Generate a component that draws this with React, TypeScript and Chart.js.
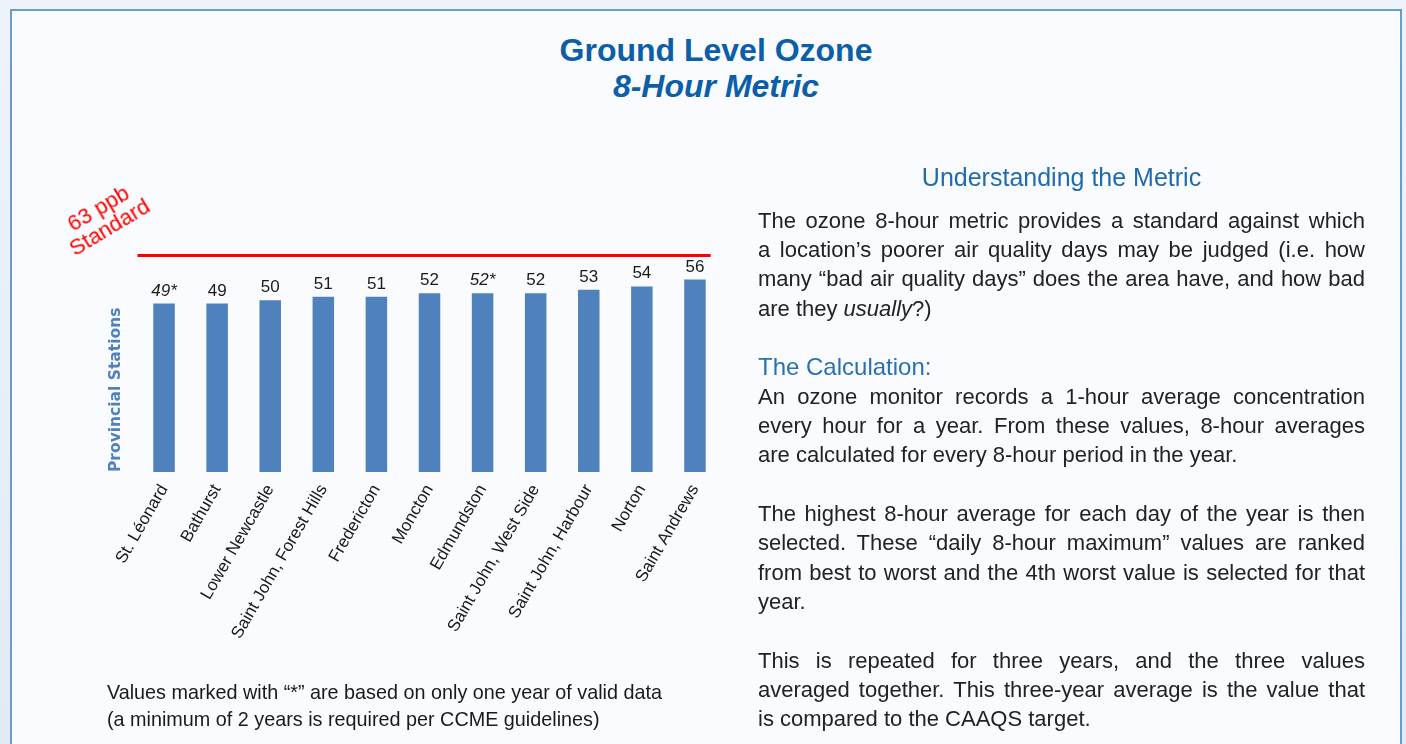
import React, { useEffect, useRef } from 'react';
import { Chart, registerables } from 'chart.js';

Chart.register(...registerables);

const stations = [
  'St. Léonard',
  'Bathurst',
  'Lower Newcastle',
  'Saint John, Forest Hills',
  'Fredericton',
  'Moncton',
  'Edmundston',
  'Saint John, West Side',
  'Saint John, Harbour',
  'Norton',
  'Saint Andrews',
];
const ozoneValues = [49, 49, 50, 51, 51, 52, 52, 52, 53, 54, 56];
const oneYearOnly = [true, false, false, false, false, false, true, false, false, false, false];
const standardValue = 63;
const yAxisMax = 64;

const FONT = '"Liberation Sans", Arial, Helvetica, sans-serif';

type Line = { text: React.ReactNode; last?: boolean; heading?: boolean; blank?: boolean };

const bodyLines: Line[] = [
  { text: 'The ozone 8-hour metric provides a standard against which' },
  { text: 'a location’s poorer air quality days may be judged (i.e. how' },
  { text: 'many “bad air quality days” does the area have, and how bad' },
  { text: <>are they <i>usually</i>?)</>, last: true },
  { text: '', blank: true },
  { text: 'The Calculation:', heading: true },
  { text: 'An ozone monitor records a 1-hour average concentration' },
  { text: 'every hour for a year. From these values, 8-hour averages' },
  { text: 'are calculated for every 8-hour period in the year.', last: true },
  { text: '', blank: true },
  { text: 'The highest 8-hour average for each day of the year is then' },
  { text: 'selected. These “daily 8-hour maximum” values are ranked' },
  { text: 'from best to worst and the 4th worst value is selected for that' },
  { text: 'year.', last: true },
  { text: '', blank: true },
  { text: 'This is repeated for three years, and the three values' },
  { text: 'averaged together. This three-year average is the value that' },
  { text: 'is compared to the CAAQS target.', last: true },
];

const overlayPlugin = {
  id: 'overlayPlugin',
  afterDatasetsDraw(chart: any) {
    const { ctx, chartArea, scales } = chart;
    const meta = chart.getDatasetMeta(0);
    ctx.save();
    const y = scales.y.getPixelForValue(standardValue);
    const lastBar = meta.data[meta.data.length - 1];
    ctx.strokeStyle = '#ff0000';
    ctx.lineWidth = 3;
    ctx.beginPath();
    ctx.moveTo(chartArea.left, y);
    ctx.lineTo(lastBar.x + lastBar.width / 2 + 5, y);
    ctx.stroke();
    meta.data.forEach((bar: any, i: number) => {
      ctx.font = (oneYearOnly[i] ? 'italic ' : '') + '17px ' + FONT;
      ctx.fillStyle = '#1a1a1a';
      ctx.textAlign = 'center';
      ctx.textBaseline = 'alphabetic';
      ctx.fillText(String(ozoneValues[i]) + (oneYearOnly[i] ? '*' : ''), bar.x, bar.y - 8);
    });
    ctx.restore();
  },
};

function OzoneChart() {
  const ref = useRef<HTMLCanvasElement | null>(null);
  useEffect(() => {
    if (!ref.current) return;
    const chart = new Chart(ref.current, {
      type: 'bar',
      data: {
        labels: stations,
        datasets: [
          {
            data: ozoneValues,
            backgroundColor: '#4f81bd',
            borderWidth: 0,
            categoryPercentage: 1,
            barPercentage: 0.405,
          },
        ],
      },
      options: {
        animation: false,
        responsive: false,
        devicePixelRatio: 1,
        layout: { padding: { top: 252, left: 90, right: 38.5, bottom: 0 } },
        plugins: {
          legend: { display: false },
          tooltip: { enabled: false },
          title: { display: false },
        },
        scales: {
          x: {
            grid: { display: false, drawTicks: false },
            border: { display: false },
            ticks: {
              autoSkip: false,
              minRotation: 60,
              maxRotation: 60,
              padding: 9,
              color: '#1a1a1a',
              font: { family: FONT, size: 17 },
            },
            afterFit: (scale: any) => {
              scale.height = 272;
            },
          },
          y: {
            min: 0,
            max: yAxisMax,
            grid: { display: false, drawTicks: false },
            border: { display: false },
            ticks: { display: false },
            title: {
              display: true,
              text: 'Provincial Stations',
              align: 'start',
              color: '#4f81bd',
              font: { family: '"DejaVu Sans", Arial, sans-serif', size: 15.5, weight: 'bold' },
              padding: { top: 17, bottom: 0 },
            },
            afterFit: (scale: any) => {
              scale.width = 47.5;
            },
          },
        },
      },
      plugins: [overlayPlugin],
    } as any);
    return () => chart.destroy();
  }, []);
  return (
    <canvas
      ref={ref}
      width={760}
      height={744}
      style={{ position: 'absolute', left: 0, top: 0, width: 760, height: 744 }}
    />
  );
}

export default function App() {
  return (
    <div
      style={{
        position: 'absolute',
        left: 0,
        top: 0,
        width: 1406,
        height: 744,
        overflow: 'hidden',
        background: 'linear-gradient(#eef3fa, #e2eaf6)',
        fontFamily: FONT,
      }}
    >
      <div
        style={{
          position: 'absolute',
          left: 10,
          top: 8.5,
          width: 1388,
          height: 760,
          border: '2px solid #6a9ccb',
          background: '#f9fbfe',
        }}
      />
      <div
        style={{
          position: 'absolute',
          left: 416,
          top: 32.4,
          width: 600,
          textAlign: 'center',
          color: '#0b5ea8',
          fontWeight: 'bold',
          fontSize: 32,
          lineHeight: '36px',
        }}
      >
        <div>Ground Level Ozone</div>
        <div style={{ fontStyle: 'italic' }}>8-Hour Metric</div>
      </div>

      <OzoneChart />

      <div
        style={{
          position: 'absolute',
          left: 44,
          top: 196,
          width: 120,
          height: 44,
          transform: 'rotate(-31deg)',
          transformOrigin: '50% 50%',
          color: '#ff0000',
          fontSize: 22,
          lineHeight: '22px',
          textAlign: 'center',
          whiteSpace: 'nowrap',
        }}
      >
        <div>63 ppb</div>
        <div>Standard</div>
      </div>

      <div
        style={{
          position: 'absolute',
          left: 107,
          top: 678.7,
          fontSize: 19.8,
          lineHeight: '27px',
          color: '#1a1a1a',
          whiteSpace: 'nowrap',
        }}
      >
        <div>Values marked with “*” are based on only one year of valid data</div>
        <div>(a minimum of 2 years is required per CCME guidelines)</div>
      </div>

      <div
        style={{
          position: 'absolute',
          left: 758,
          top: 162.3,
          width: 607,
          textAlign: 'center',
          color: '#1f6bb0',
          fontSize: 25,
          lineHeight: '30px',
        }}
      >
        Understanding the Metric
      </div>

      <div
        style={{
          position: 'absolute',
          left: 758,
          top: 205.5,
          width: 607,
          fontSize: 22,
          lineHeight: '29.35px',
          color: '#222222',
        }}
      >
        {bodyLines.map((l, i) => (
          <div
            key={i}
            style={{
              height: 29.35,
              textAlign: l.last || l.heading ? 'left' : 'justify',
              textAlignLast: l.last || l.heading ? 'left' : 'justify',
              color: l.heading ? '#2a70b2' : undefined,
              fontSize: l.heading ? 24 : undefined,
            } as React.CSSProperties}
          >
            {l.blank ? '\u00a0' : l.text}
          </div>
        ))}
      </div>
    </div>
  );
}
